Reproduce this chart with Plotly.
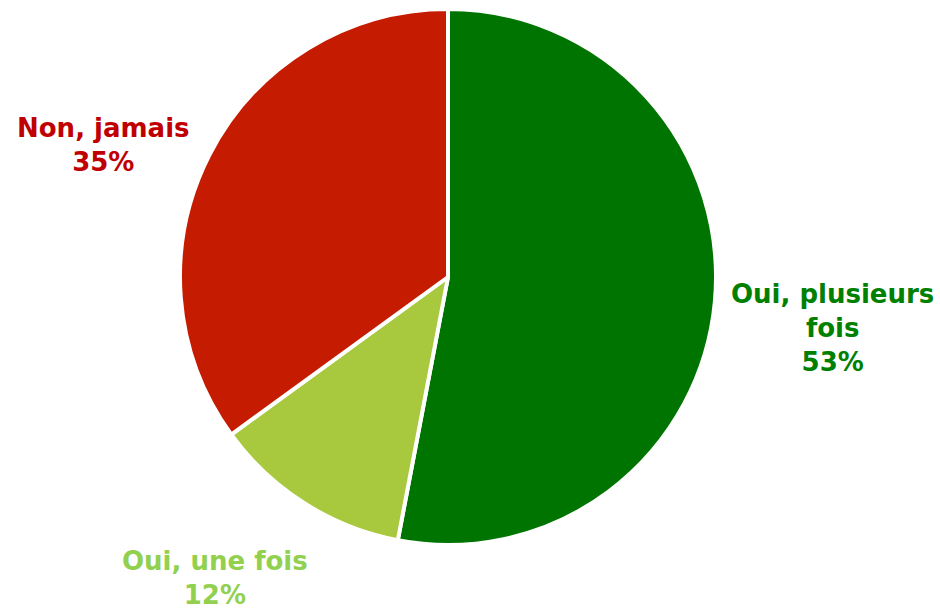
import plotly.graph_objects as go

labels = ["Oui, plusieurs<br>fois", "Oui, une fois", "Non, jamais"]
values = [53, 12, 35]
slice_colors = ["#007400", "#A8C93E", "#C51B00"]
text_colors = ["#008000", "#92D050", "#C00000"]
label_pos = [(832, 328), (215, 578), (103, 145)]  # pixel centres of labels

W, H = 940, 612
cx, cy, r = 448, 277, 268

fig = go.Figure(go.Pie(
    labels=labels,
    values=values,
    sort=False,
    direction="clockwise",
    rotation=0,
    marker=dict(colors=slice_colors, line=dict(color="white", width=4)),
    textinfo="none",
    hoverinfo="label+percent",
    domain=dict(x=[(cx - r) / W, (cx + r) / W], y=[1 - (cy + r) / H, 1 - (cy - r) / H]),
    showlegend=False,
))

total = sum(values)
for lab, v, c, (px, py) in zip(labels, values, text_colors, label_pos):
    fig.add_annotation(
        x=px / W, y=1 - py / H, xref="paper", yref="paper",
        text=f"<b>{lab}<br>{round(100 * v / total)}%</b>",
        showarrow=False, xanchor="center", yanchor="middle", align="center",
        font=dict(family="DejaVu Sans", size=26, color=c),
    )

fig.update_layout(
    width=W, height=H,
    margin=dict(l=0, r=0, t=0, b=0),
    paper_bgcolor="white", plot_bgcolor="white",
)
fig.write_html(
    "out.html",
    config={"displayModeBar": False},
    post_script="document.body.style.margin='0';document.body.style.overflow='hidden';",
)
